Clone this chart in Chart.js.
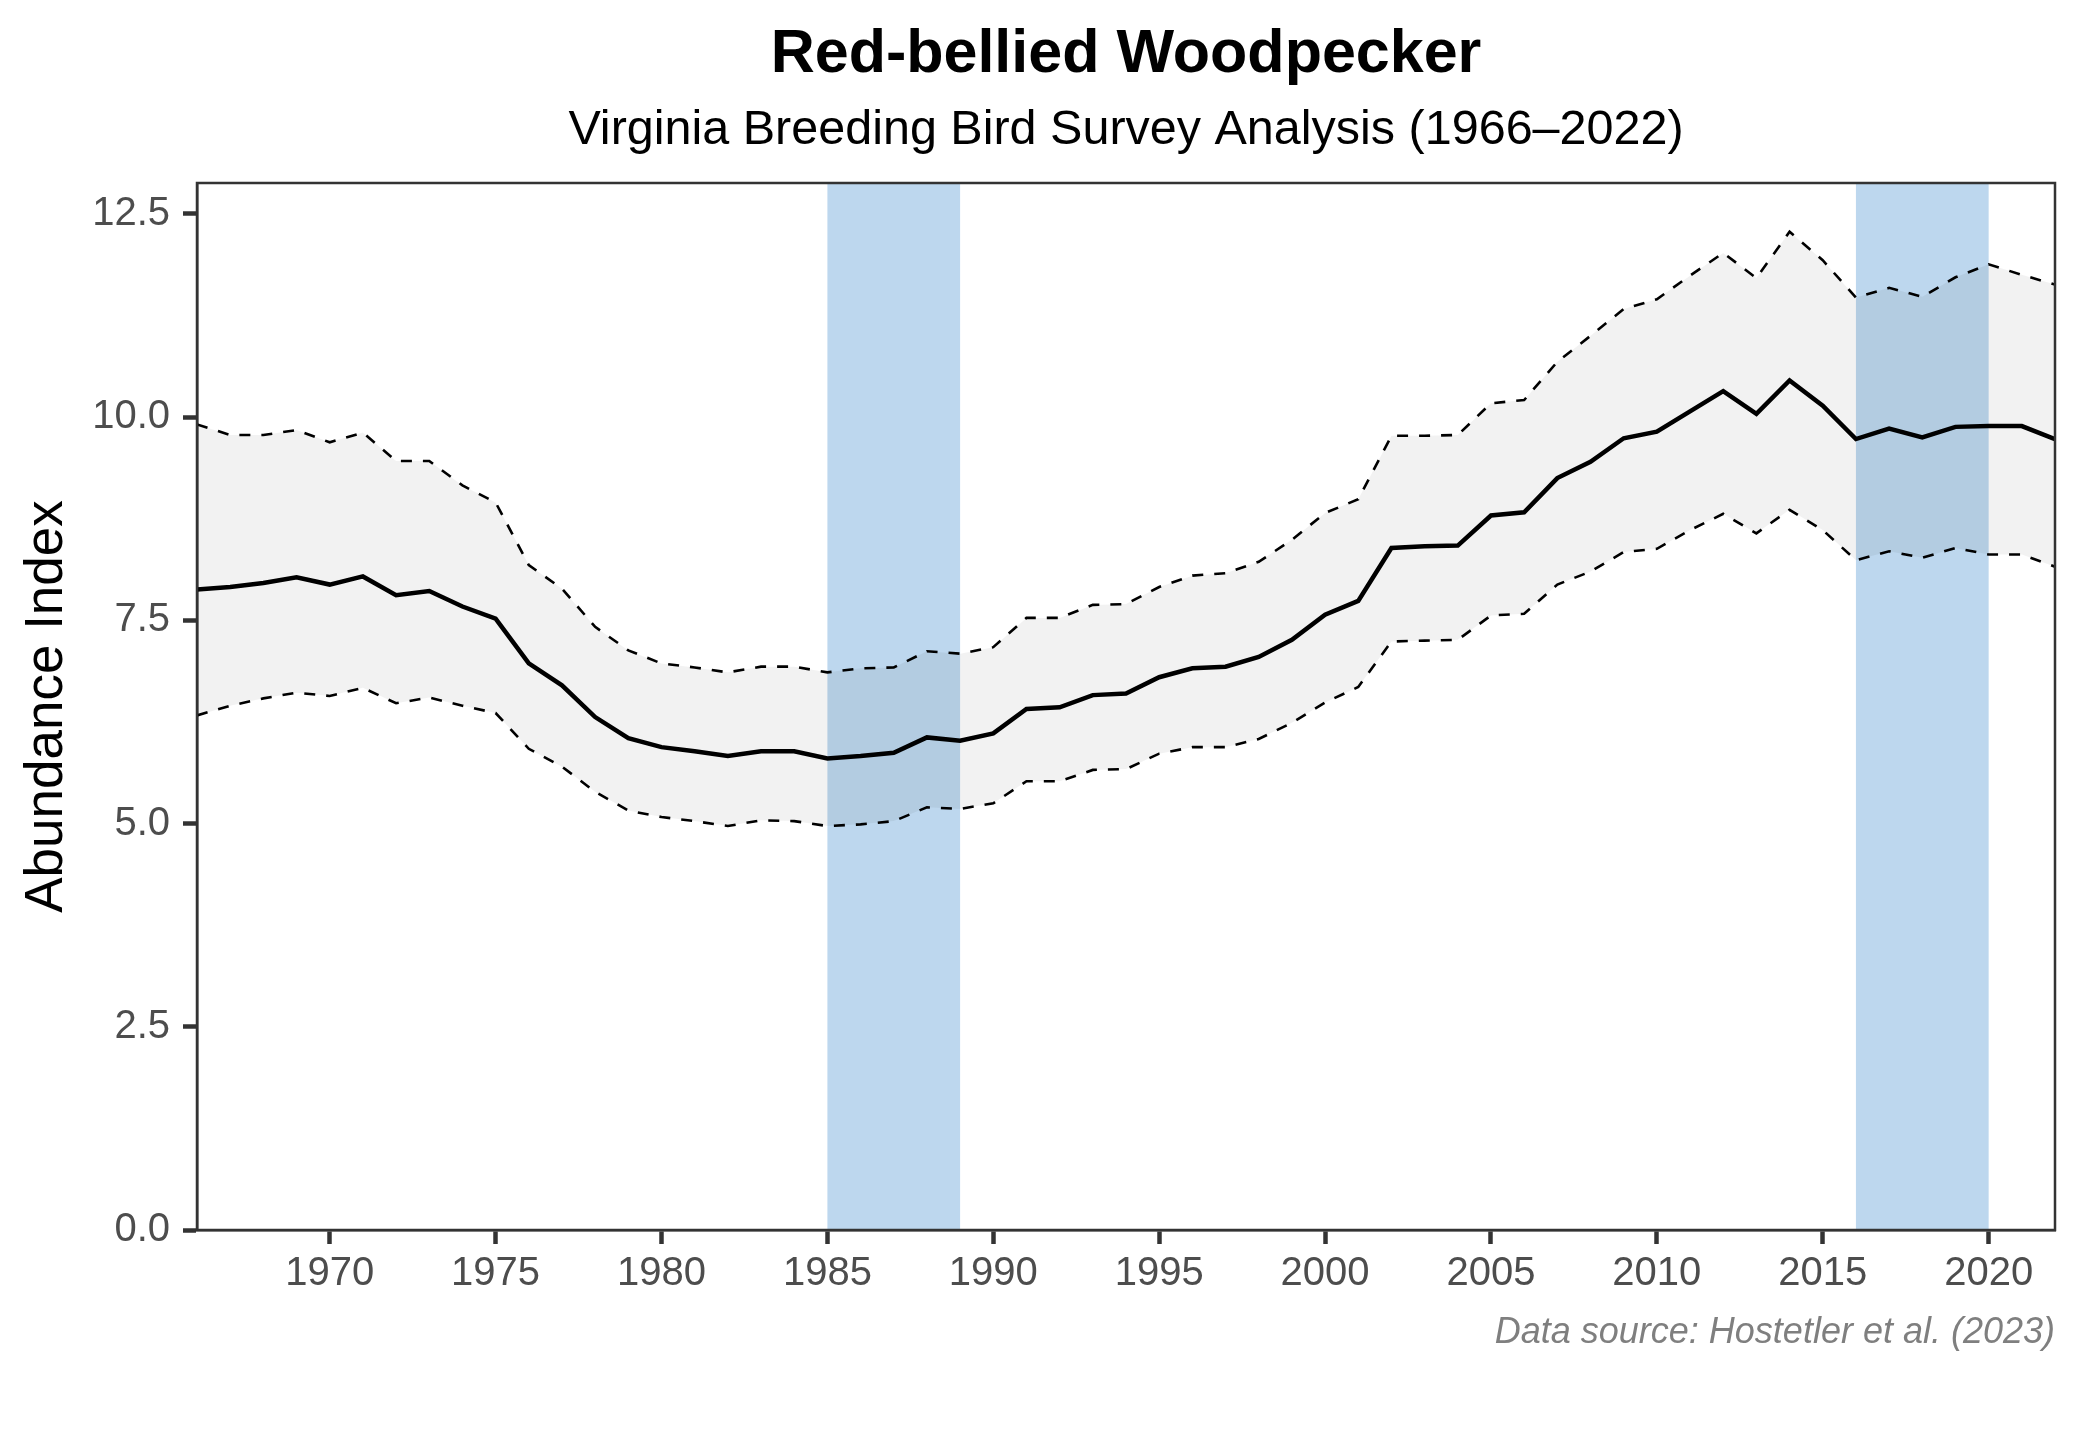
<!DOCTYPE html>
<html>
<head>
<meta charset="utf-8">
<script src="https://cdn.jsdelivr.net/npm/chart.js@4.4.1/dist/chart.umd.min.js"></script>
<style>
  html, body { margin: 0; padding: 0; background: #fff; }
  #wrap { width: 2080px; height: 1440px; }
</style>
</head>
<body>
<div id="wrap"><canvas id="trendChart" width="2080" height="1440"></canvas></div>
<script>
const years = [1966, 1967, 1968, 1969, 1970, 1971, 1972, 1973, 1974, 1975,
               1976, 1977, 1978, 1979, 1980, 1981, 1982, 1983, 1984, 1985,
               1986, 1987, 1988, 1989, 1990, 1991, 1992, 1993, 1994, 1995,
               1996, 1997, 1998, 1999, 2000, 2001, 2002, 2003, 2004, 2005,
               2006, 2007, 2008, 2009, 2010, 2011, 2012, 2013, 2014, 2015,
               2016, 2017, 2018, 2019, 2020, 2021, 2022];

const abundance = [7.88, 7.91, 7.96, 8.03, 7.94, 8.04, 7.81, 7.86, 7.67, 7.52,
                   6.97, 6.70, 6.31, 6.05, 5.94, 5.89, 5.83, 5.89, 5.89, 5.80,
                   5.83, 5.87, 6.06, 6.02, 6.11, 6.41, 6.43, 6.58, 6.60, 6.80,
                   6.91, 6.93, 7.05, 7.26, 7.57, 7.74, 8.39, 8.41, 8.42, 8.79,
                   8.83, 9.25, 9.45, 9.74, 9.82, 10.07, 10.32, 10.04, 10.45, 10.14,
                   9.73, 9.86, 9.75, 9.88, 9.89, 9.89, 9.73];

const upperCI = [9.91, 9.78, 9.78, 9.84, 9.69, 9.81, 9.46, 9.46, 9.16, 8.95,
                 8.18, 7.89, 7.42, 7.13, 6.97, 6.92, 6.86, 6.93, 6.93, 6.86,
                 6.91, 6.92, 7.12, 7.09, 7.17, 7.53, 7.53, 7.69, 7.70, 7.91,
                 8.05, 8.08, 8.22, 8.49, 8.82, 8.99, 9.77, 9.77, 9.78, 10.17,
                 10.21, 10.68, 11.00, 11.33, 11.45, 11.74, 12.02, 11.71, 12.28, 11.93,
                 11.47, 11.59, 11.48, 11.72, 11.88, 11.75, 11.63];

const lowerCI = [6.33, 6.45, 6.54, 6.61, 6.57, 6.67, 6.48, 6.55, 6.45, 6.36,
                 5.92, 5.70, 5.39, 5.16, 5.08, 5.03, 4.97, 5.04, 5.03, 4.97,
                 4.99, 5.03, 5.20, 5.18, 5.25, 5.52, 5.52, 5.66, 5.67, 5.86,
                 5.94, 5.94, 6.04, 6.24, 6.49, 6.68, 7.24, 7.25, 7.26, 7.56,
                 7.58, 7.94, 8.10, 8.34, 8.38, 8.61, 8.81, 8.57, 8.86, 8.61,
                 8.24, 8.35, 8.27, 8.39, 8.31, 8.31, 8.16];

// highlighted survey periods
const bandStart = [1985, 2016];
const bandEnd = [1989, 2020];

const xTicks = [1970, 1975, 1980, 1985, 1990, 1995, 2000, 2005, 2010, 2015, 2020];
const yTicks = [0, 2.5, 5, 7.5, 10, 12.5];

const chartTitle = 'Red-bellied Woodpecker';
const chartSubtitle = 'Virginia Breeding Bird Survey Analysis (1966–2022)';
const yAxisTitle = 'Abundance Index';
const caption = 'Data source: Hostetler et al. (2023)';

document.addEventListener('DOMContentLoaded', () => {
    const ctx = document.getElementById('trendChart');
    const FONT = '"Liberation Sans", Arial, sans-serif';
    const toPoints = (vals) => years.map((yr, i) => ({ x: yr, y: vals[i] }));

    // --- Blue period bands, drawn under everything ---
    const bandsPlugin = {
        id: 'bands',
        beforeDraw(chart) {
            const { ctx: c, chartArea: area, scales } = chart;
            c.save();
            c.fillStyle = '#BDD7EE';
            bandStart.forEach((start, i) => {
                const x0 = scales.x.getPixelForValue(start);
                const x1 = scales.x.getPixelForValue(bandEnd[i]);
                c.fillRect(x0, area.top, x1 - x0, area.bottom - area.top);
            });
            c.restore();
        }
    };

    // --- Panel border, titles and caption ---
    const framePlugin = {
        id: 'frame',
        afterDraw(chart) {
            const { ctx: c, chartArea: area } = chart;
            const cx = (area.left + area.right) / 2;
            c.save();
            c.strokeStyle = '#333333';
            c.lineWidth = 2.5;
            c.strokeRect(area.left, area.top, area.right - area.left, area.bottom - area.top);

            c.fillStyle = '#000';
            c.textAlign = 'center';
            c.textBaseline = 'alphabetic';
            c.font = `bold 61px ${FONT}`;
            c.fillText(chartTitle, cx, 72);
            c.font = `48.5px ${FONT}`;
            c.fillText(chartSubtitle, cx, 144);

            c.fillStyle = '#7F7F7F';
            c.textAlign = 'right';
            c.font = `italic 36px ${FONT}`;
            c.fillText(caption, area.right, 1343);
            c.restore();
        }
    };

    new Chart(ctx, {
        type: 'line',
        data: {
            datasets: [{
                label: 'Abundance',
                data: toPoints(abundance),
                borderColor: '#000',
                borderWidth: 4.5,
                pointRadius: 0,
                tension: 0,
                fill: false,
            }, {
                label: 'Upper',
                data: toPoints(upperCI),
                borderColor: '#000',
                borderWidth: 2.6,
                borderDash: [11, 11],
                pointRadius: 0,
                tension: 0,
                fill: 2,
                backgroundColor: 'rgba(0, 0, 0, 0.05)',
            }, {
                label: 'Lower',
                data: toPoints(lowerCI),
                borderColor: '#000',
                borderWidth: 2.6,
                borderDash: [11, 11],
                pointRadius: 0,
                tension: 0,
                fill: false,
            }]
        },
        options: {
            responsive: false,
            animation: false,
            devicePixelRatio: 1,
            layout: { padding: { top: 183, right: 25, bottom: 0, left: 0 } },
            plugins: {
                legend: { display: false },
                tooltip: { enabled: false },
                filler: { drawTime: 'beforeDatasetsDraw' },
            },
            scales: {
                x: {
                    type: 'linear',
                    min: 1966,
                    max: 2022,
                    afterBuildTicks: (scale) => { scale.ticks = xTicks.map(v => ({ value: v })); },
                    afterFit: (scale) => { scale.height = 210; },
                    grid: { display: true, drawOnChartArea: false, drawTicks: true, tickLength: 14, tickWidth: 4.5, tickColor: '#333333' },
                    border: { display: true, color: '#333333', width: 2.5 },
                    ticks: {
                        autoSkip: false,
                        maxRotation: 0,
                        padding: 6,
                        color: '#4D4D4D',
                        font: { family: FONT, size: 40 },
                        callback: (v) => String(v),
                    },
                },
                y: {
                    min: 0,
                    max: 12.88,
                    afterBuildTicks: (scale) => { scale.ticks = yTicks.map(v => ({ value: v })); },
                    afterFit: (scale) => { scale.width = 197; },
                    grid: { display: true, drawOnChartArea: false, drawTicks: true, tickLength: 14, tickWidth: 4.5, tickColor: '#333333' },
                    border: { display: true, color: '#333333', width: 2.5 },
                    title: {
                        display: true,
                        text: yAxisTitle,
                        color: '#000',
                        font: { family: FONT, size: 53 },
                        padding: { top: 16, bottom: 0 },
                    },
                    ticks: {
                        padding: 13,
                        color: '#4D4D4D',
                        font: { family: FONT, size: 40 },
                        callback: (v) => Number(v).toFixed(1),
                    },
                },
            },
        },
        plugins: [bandsPlugin, framePlugin],
    });
});
</script>
</body>
</html>
